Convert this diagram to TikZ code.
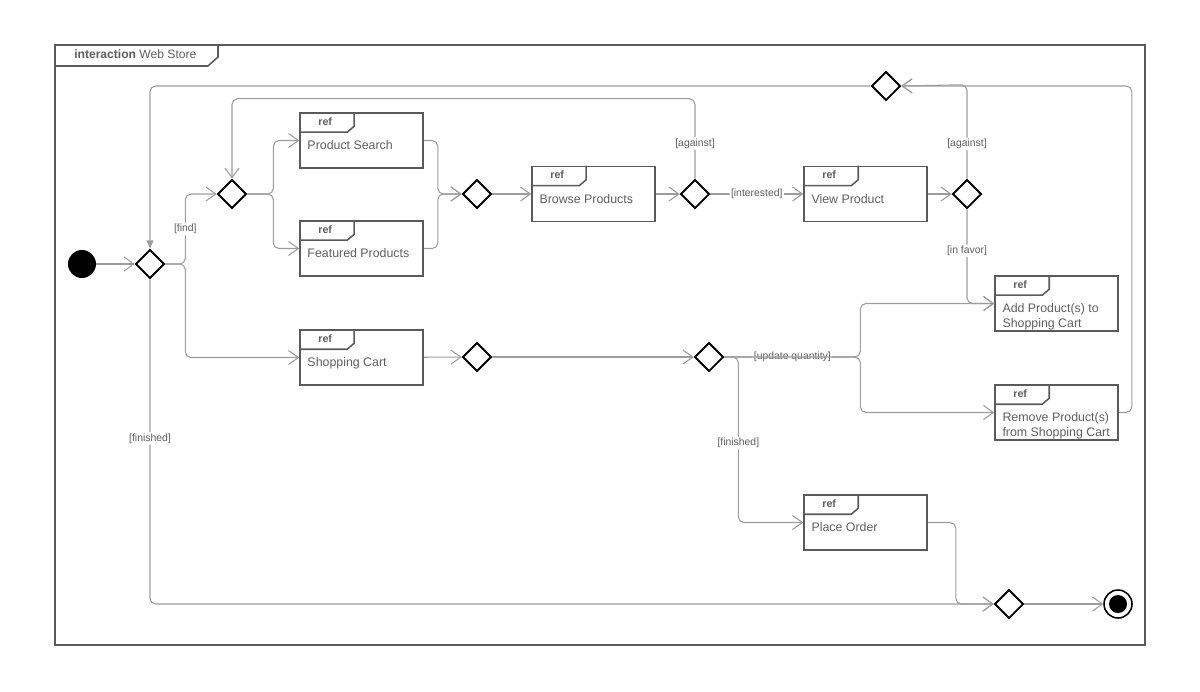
\documentclass[tikz,border=0pt]{standalone}
\usepackage{fontspec}
\setmainfont{Liberation Sans}
\usetikzlibrary{shapes.geometric,arrows.meta,calc}

\definecolor{framegray}{HTML}{5A5A5A}
\definecolor{linegray}{HTML}{9C9C9C}
\definecolor{textgray}{HTML}{5E5E5E}

\tikzset{
  refbox/.style={draw=framegray, line width=1.1pt, minimum width=3.075cm,
    minimum height=1.375cm, inner sep=0pt},
  boxline/.style={draw=framegray, line width=1.1pt},
  reftag/.style={font=\fontsize{7.6}{9}\selectfont\bfseries, text=textgray, inner sep=0pt},
  reftext/.style={font=\fontsize{8.8}{10.3}\selectfont, text=textgray, align=left, inner sep=0pt},
  choice/.style={diamond, aspect=1, draw=black, line width=1.3pt, minimum size=0.72cm, inner sep=0pt},
  flow/.style={draw=linegray, line width=0.75pt, rounded corners=4pt,
    -{Straight Barb[length=7pt,width=10pt]}},
  guard/.style={fill=white, text=textgray, font=\fontsize{7.4}{9}\selectfont, inner sep=1pt},
}

% ref frame: name, position, text
\newcommand{\refbox}[3]{%
  \node[refbox] (#1) at (#2) {};
  \draw[boxline] (#1.north west) ++(0,20) -- ++(48,0) -- ++(7,-6) -- ++(0,-14);
  \node[reftag] (#1-tag) at ($(#1.north west)+(26,9)$) {ref};
  \node[reftext, anchor=north west] (#1-txt) at ($(#1.north west)+(8,28.5)$) {#3};
}

\begin{document}
\begin{tikzpicture}[x=0.025cm, y=-0.025cm]
\useasboundingbox (0,0) rectangle (1200,691);

% ---- frame ----
\draw[boxline] (55,45) rectangle (1145,645);
\draw[boxline] (55,66) -- (208,66) -- (218,57) -- (218,45);
\node[anchor=west, text=textgray, font=\fontsize{8.6}{10}\selectfont, inner sep=0pt]
  (title) at (74,54) {\textbf{interaction} Web Store};

% ---- start / end ----
\node[circle, fill=black, minimum size=0.7cm, inner sep=0pt] (init) at (82,264) {};
\node[circle, draw=black, line width=1.1pt, minimum size=0.7cm, inner sep=0pt] (final) at (1118,604) {};
\node[circle, fill=black, minimum size=0.45cm, inner sep=0pt] (final-dot) at (final) {};

% ---- decisions ----
\node[choice] (dec)      at (150,264) {};
\node[choice] (findfork) at (232,194) {};
\node[choice] (bmerge)   at (477,194) {};
\node[choice] (intdec)   at (695,194) {};
\node[choice] (buydec)   at (967,194) {};
\node[choice] (loop)     at (886,86)  {};
\node[choice] (cartdec)  at (477,357) {};
\node[choice] (upddec)   at (709,357) {};
\node[choice] (enddec)   at (1009,604) {};

% ---- interaction uses ----
\refbox{search}{361.5,140.5}{Product Search}
\refbox{featured}{361.5,248.5}{Featured Products}
\refbox{browse}{593.5,194}{Browse Products}
\refbox{view}{865.5,194}{View Product}
\refbox{add}{1056.5,303.5}{Add Product(s) to\\Shopping Cart}
\refbox{remove}{1056.5,412.5}{Remove Product(s)\\from Shopping Cart}
\refbox{cart}{361.5,357.5}{Shopping Cart}
\refbox{order}{865.5,522.5}{Place Order}

% ---- flows ----
\draw[flow] (init) -- (dec);
\draw[flow] (dec.east) -- ++(20,0) |- node[guard, pos=0.25] {[find]} (findfork.west);
\draw[flow] (dec.east) -- ++(20,0) |- (cart.west);
\draw[flow] (dec.south) |- node[guard, pos=0.245] {[finished]} (enddec.west);

\draw[flow] (findfork.east) -- ++(26,0) |- (search.west);
\draw[flow] (findfork.east) -- ++(26,0) |- (featured.west);
\draw[flow] (search.east) -- ++(14,0) |- (bmerge.west);
\draw[flow] (featured.east) -- ++(14,0) |- (bmerge.west);
\draw[flow] (bmerge) -- (browse);
\draw[flow] (browse) -- (intdec);
\draw[flow] (intdec) -- node[guard] {[interested]} (view);
\draw[flow] (intdec.north) -- node[guard, pos=0.44] {[against]} ++(0,-80) -| (findfork.north);

\draw[flow] (view) -- (buydec);
\draw[flow] (buydec.north) -- node[guard, pos=0.37] {[against]} ++(0,-94) -- (loop.east);
\draw[flow] (buydec.south) |- node[guard, pos=0.22] {[in favor]} (add.west);
\draw[flow] (remove.east) -- ++(13,0) |- (loop.east);
\draw[flow, -{Triangle[length=6pt,width=5pt]}] (loop.west) -| (dec.north);

\draw[flow] (cart) -- (cartdec);
\draw[flow] (cartdec) -- (upddec);
\draw[flow] (upddec.east) -- node[guard, pos=0.5] {[update quantity]} ++(136,0) |- (add.west);
\draw[flow] (upddec.east) -- ++(136,0) |- (remove.west);
\draw[flow] (upddec.east) -- ++(14,0) |- node[guard, pos=0.26] {[finished]} (order.west);

\draw[flow] (order.east) -- ++(28,0) |- (enddec.west);
\draw[flow] (enddec) -- (final);

\end{tikzpicture}
\end{document}
